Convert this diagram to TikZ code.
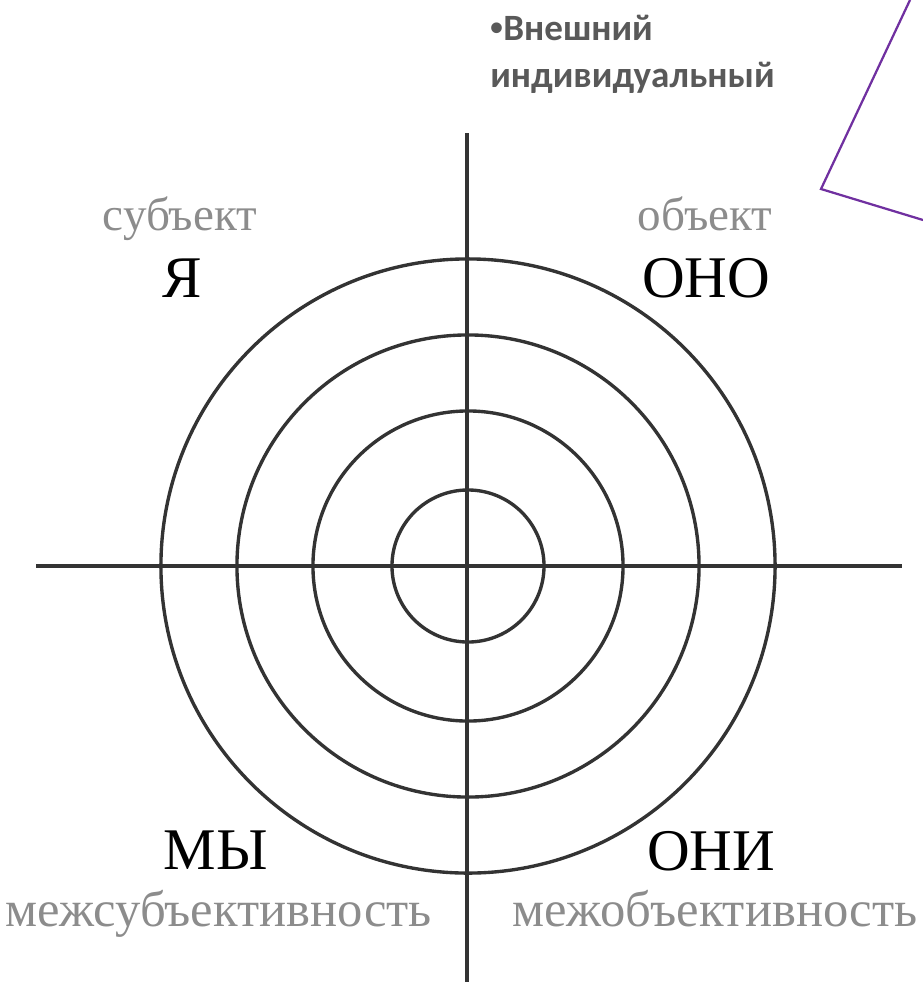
\documentclass[tikz,border=0pt]{standalone}
\usepackage{fontspec}
\setmainfont{Liberation Serif}
\newfontfamily\headfont{Carlito}
\newfontfamily\dotfont{Liberation Sans}
\usetikzlibrary{positioning}
\definecolor{lgray}{RGB}{140,140,140}
\definecolor{hgray}{RGB}{89,89,89}
\definecolor{mpurple}{RGB}{112,48,160}

\begin{document}
\begin{tikzpicture}[x=0.025cm,y=-0.025cm,
  axis/.style={draw=black!80,line width=2.6pt},
  ring/.style={draw=black!80,line width=2.4pt},
  role/.style={font=\fontsize{42}{42}\selectfont,anchor=base,inner sep=0pt},
  note/.style={text=lgray,font=\fontsize{33.5}{33.5}\selectfont,anchor=base,inner sep=0pt},
  head/.style={text=hgray,font=\headfont\bfseries\fontsize{26.4}{26.4}\selectfont,anchor=base west,inner sep=0pt}]
  \useasboundingbox (0,0) rectangle (923,989);
  % axes and rings
  \coordinate (c) at (468,566);
  \coordinate (xl) at (36,566);
  \coordinate (xr) at (902,566);
  \coordinate (yt) at (467,133);
  \coordinate (yb) at (467,982);
  \draw[axis] (xl) -- (xr);
  \draw[axis] (yt) -- (yb);
  \foreach \r in {1.9,3.875,5.775,7.675}
    \draw[ring] (c) circle[radius=\r cm];
  % quadrant labels
  \node[note] (subj) at (180,230) {субъект};
  \node[role] (ya) at (182,297) {Я};
  \node[note] (obj) at (705,230) {объект};
  \node[role] (ono) at (706,297) {ОНО};
  \node[role] (my) at (216,869) {МЫ};
  \node[role] (oni) at (711,870) {ОНИ};
  \node[note,font=\fontsize{36}{36}\selectfont,anchor=base east] (intersubj) at (432,926) {межсубъективность};
  \node[note,font=\fontsize{36}{36}\selectfont,anchor=base west] (interobj) at (512,926) {межобъективность};
  % slide text and callout
  \node[head] (outer) at (490,40) {{\dotfont •}Внешний};
  \node[head] (indiv) at (490,87) {индивидуальный};
  \coordinate (p1) at (910,0);
  \coordinate (p2) at (821,189);
  \coordinate (p3) at (923,220);
  \draw[mpurple,line width=1.6pt] (p1) -- (p2) -- (p3);
\end{tikzpicture}
\end{document}
